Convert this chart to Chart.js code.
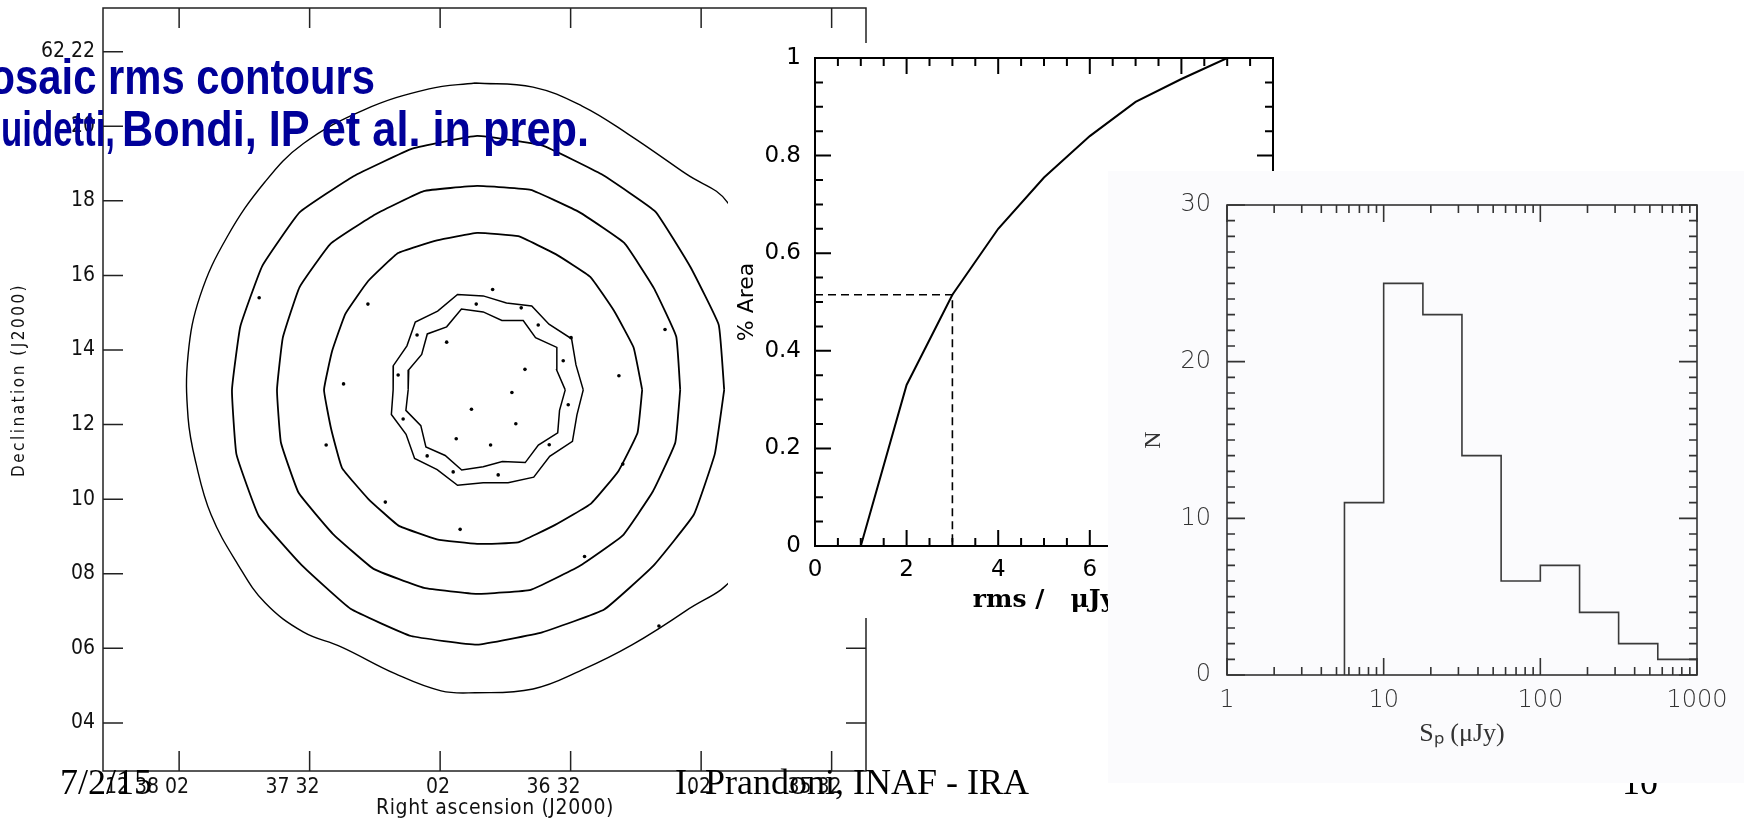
<!DOCTYPE html>
<html>
<head>
<meta charset="utf-8">
<script src="https://cdn.jsdelivr.net/npm/chart.js@4.4.1/dist/chart.umd.min.js"></script>
<style>
  html, body { margin: 0; padding: 0; background: #fff; overflow: hidden; }
  canvas { position: absolute; }
  #mapChart { left: 0; top: 0; }
  #areaChart { left: 728px; top: 43px; background: #fff; }
  #histChart { left: 1108px; top: 171px; background: #fbfbfd; }
</style>
</head>
<body>
<canvas id="mapChart" width="1744" height="821"></canvas>
<canvas id="areaChart" width="562" height="575"></canvas>
<canvas id="histChart" width="636" height="612"></canvas>
<script>
// --- contour map: RA in seconds after 12h35m, Dec in arcmin after 62d ---
const raTicks = [32, 62, 92, 122, 152, 182]
const raLabels = ["35 32", "02", "36 32", "02", "37 32", "12 38 02"]
const decTicks = [4, 6, 8, 10, 12, 14, 16, 18, 20, 22]
const decLabels = ["04", "06", "08", "10", "12", "14", "16", "18", "20", "62 22"]

// rms contours, [RA s, Dec arcmin]
const outerRing = [[113.96,21.16],[100.63,21.05],[89.36,20.54],[78.79,19.79],[65.45,18.72],[55.8,17.94],[50.3,16.15],[47.5,14.0],[46.8,12.13],[48.4,9.98],[54.2,7.97],[65.45,7.01],[77.9,6.09],[89.36,5.42],[100.63,4.91],[113.96,4.81],[121.78,4.86],[132.35,5.32],[144.77,6.04],[153.5,6.44],[162.24,7.22],[168.45,8.24],[174.65,9.58],[178.1,10.95],[179.94,12.18],[179.94,13.87],[177.18,15.45],[170.98,17.03],[162.24,18.51],[153.5,19.53],[139.48,20.44],[124.54,21.0]]
const ring2 = [[56.7,12.93],[57.95,14.67],[64.5,16.23],[72.52,17.71],[84.87,18.71],[98.43,19.48],[113.5,19.74],[128.39,19.40],[141.91,18.66],[154.31,17.69],[162.9,16.25],[167.93,14.63],[169.85,12.93],[168.82,11.20],[163.69,9.55],[153.83,8.23],[142.6,7.06],[128.69,6.33],[113.5,6.10],[98.55,6.43],[84.29,7.04],[73.01,8.21],[63.7,9.58],[58.84,11.22]]
const ring3 = [[66.81,12.93],[67.73,14.36],[72.87,15.66],[79.68,16.87],[89.92,17.69],[101.17,18.29],[113.5,18.40],[125.77,18.26],[136.85,17.64],[147.16,16.85],[154.33,15.68],[158.16,14.33],[159.5,12.93],[158.6,11.52],[154.53,10.17],[146.67,9.07],[137.31,8.13],[125.71,7.62],[113.5,7.46],[101.17,7.57],[90.04,8.20],[80.0,9.03],[73.07,10.21],[67.95,11.51]]
const ring4 = [[75.55,12.93],[77.51,14.06],[82.03,15.05],[87.48,15.96],[95.44,16.57],[104.03,17.05],[113.5,17.14],[122.73,16.94],[131.67,16.60],[138.54,15.85],[143.78,14.97],[146.83,13.97],[148.69,12.93],[147.05,11.88],[144.57,10.84],[138.54,10.01],[131.56,9.29],[122.73,8.92],[113.5,8.80],[104.09,8.84],[95.56,9.31],[87.32,9.88],[81.03,10.75],[76.62,11.78]]
const innerRingA = [[89.1,12.93],[90.77,13.60],[91.78,14.30],[96.98,14.69],[100.94,15.18],[106.74,15.26],[112.1,15.45],[118.0,15.49],[122.57,15.04],[127.71,14.75],[129.63,14.11],[132.76,13.58],[132.8,12.93],[133.21,12.27],[129.83,11.74],[127.87,11.09],[122.68,10.79],[118.0,10.37],[112.1,10.44],[106.38,10.44],[100.48,10.59],[96.81,11.15],[91.58,11.55],[90.55,12.26]]
const innerRingB = [[93.24,12.93],[95.21,13.46],[95.17,14.07],[100.07,14.33],[102.9,14.79],[107.81,14.79],[112.1,15.02],[117.1,15.10],[120.5,14.62],[124.95,14.43],[126.24,13.88],[129.21,13.47],[129.35,12.93],[129.87,12.38],[126.44,11.97],[125.27,11.40],[120.84,11.17],[117.04,10.78],[112.1,10.87],[107.69,11.01],[102.44,10.98],[99.42,11.45],[94.97,11.78],[94.55,12.38]]
const specks = [[109.93,15.62],[120.5,14.21],[102.5,13.48],[114.8,12.41],[105.5,12.86],[118.3,11.62],[110.4,11.45],[104.6,12.02],[91.9,14.33],[138.6,15.23],[144.2,13.09],[80.9,13.31],[70.3,14.55],[148.2,11.45],[134.6,9.92],[80.0,10.94],[117.4,9.19],[88.8,8.46],[163.6,15.4],[71.7,6.6],[93.7,13.71],[99.45,14.67],[113.7,15.23],[127.3,14.40],[131.65,13.33],[130.5,12.15],[124.98,11.16],[108.65,10.65],[96.92,11.46],[92.55,12.53],[103.36,15.13],[119.0,10.73]]

// --- cumulative area vs rms ---
const rmsValues = [1, 2, 3, 4, 5, 6, 7, 8, 9, 9.6]
const areaValues = [0, 0.33, 0.515, 0.65, 0.755, 0.84, 0.91, 0.957, 1, 1]
const rmsMark = 3
const areaMark = 0.515
const rmsTicks = [0, 2, 4, 6, 8, 10]
const areaTicks = [0, 0.2, 0.4, 0.6, 0.8, 1]

// --- peak flux histogram ---
const binEdges = [5.62, 10, 17.8, 31.6, 56.2, 100, 178, 316, 562, 1000]
const counts = [11, 25, 23, 14, 6, 7, 4, 2, 1]
const fluxTicks = [1, 10, 100, 1000]
const countTicks = [0, 10, 20, 30]

const titleLines = ["Mosaic rms contours", "Guidetti,", "Bondi, IP et al. in prep."]
const footer = { date: "7/2/15", author: "I. Prandoni, INAF - IRA", page: "10" }

const fontMap = "'DejaVu Sans Condensed', 'Liberation Sans Narrow', sans-serif"

function steps(from, to, step, skip) {
  const out = []
  for (let v = from; v <= to + 1e-9; v += step) {
    const r = Math.round(v * 1000) / 1000
    if (!skip || !skip.includes(r)) out.push(r)
  }
  return out
}

// fixed axis box, no extra room for overhanging labels
function fixSize(prop, size) {
  return (s) => {
    s[prop] = size
    s.paddingLeft = 0
    s.paddingRight = 0
    s.paddingTop = 0
    s.paddingBottom = 0
  }
}

// frame round the plot area and inward tick marks on every side
const boxTicks = {
  id: "boxTicks",
  afterDraw(chart, args, opts) {
    const { ctx, chartArea: a, scales } = chart
    ctx.save()
    ctx.strokeStyle = opts.color
    ctx.lineWidth = opts.width
    ctx.strokeRect(a.left, a.top, a.right - a.left, a.bottom - a.top)
    ctx.beginPath()
    opts.marks.forEach((m) => {
      const s = scales[m.axis]
      m.values.forEach((v) => {
        const p = s.getPixelForValue(v)
        if (m.axis === "x") {
          ctx.moveTo(p, a.bottom); ctx.lineTo(p, a.bottom - m.len)
          ctx.moveTo(p, a.top); ctx.lineTo(p, a.top + m.len)
        } else {
          ctx.moveTo(a.left, p); ctx.lineTo(a.left + m.len, p)
          ctx.moveTo(a.right, p); ctx.lineTo(a.right - m.len, p)
        }
      })
    })
    ctx.stroke()
    ctx.restore()
  },
}

// draws a line so that one part of it spans a given width
function fittedLine(ctx, text, anchor, anchorX, anchorW, baseY) {
  const i = text.indexOf(anchor)
  const sx = anchorW / ctx.measureText(anchor).width
  const pre = ctx.measureText(text.slice(0, i)).width
  ctx.save()
  ctx.translate(anchorX - pre * sx, baseY)
  ctx.scale(sx, 1.12)
  ctx.fillText(text, 0, 0)
  ctx.restore()
}

// slide texts and the map's axis titles
const slideText = {
  id: "slideText",
  afterDraw(chart) {
    const ctx = chart.ctx
    ctx.save()
    ctx.fillStyle = "#111"
    ctx.textAlign = "center"
    ctx.textBaseline = "middle"
    ctx.font = "21px " + fontMap
    ctx.letterSpacing = "0.6px"
    ctx.fillText("Right ascension (J2000)", 495, 809)
    ctx.save()
    ctx.translate(20, 380)
    ctx.rotate(-Math.PI / 2)
    ctx.font = "17px " + fontMap
    ctx.letterSpacing = "2.5px"
    ctx.fillText("Declination (J2000)", 0, 0)
    ctx.restore()
    ctx.letterSpacing = "0px"

    ctx.fillStyle = "#000099"
    ctx.textAlign = "left"
    ctx.textBaseline = "alphabetic"
    ctx.font = "bold 44px 'Liberation Sans', 'Noto Sans', sans-serif"
    fittedLine(ctx, titleLines[0], "rms contours", 108, 267, 94)
    fittedLine(ctx, titleLines[1], "uidetti,", 1, 114, 146)
    fittedLine(ctx, titleLines[2], "Bondi, IP et al. in prep.", 122, 467, 146)

    ctx.fillStyle = "#000"
    ctx.font = "36px 'Liberation Serif', 'Times New Roman', serif"
    ctx.fillText(footer.date, 60, 794)
    ctx.fillText(footer.author, 675, 794)
    ctx.fillText(footer.page, 1622, 794)
    ctx.restore()
  },
}

const pts = (list) => list.map(([x, y]) => ({ x, y }))
const loop = (list) => pts(list.concat([list[0]]))

function ringSet(list, width, tension) {
  return { data: loop(list), showLine: true, borderColor: "#000", borderWidth: width, tension, pointRadius: 0 }
}

const base = {
  responsive: false,
  animation: false,
  devicePixelRatio: 1,
  events: [],
}
const noGrid = { display: false, drawTicks: false }

// Mapa de contornos
new Chart(document.getElementById("mapChart"), {
  type: "scatter",
  data: {
    datasets: [
      ringSet(outerRing, 1.4, 0.4),
      ringSet(ring2, 1.8, 0.1),
      ringSet(ring3, 1.8, 0.1),
      ringSet(ring4, 1.8, 0.1),
      ringSet(innerRingA, 1.5, 0),
      ringSet(innerRingB, 1.5, 0),
      { data: pts(specks), pointRadius: 1.8, backgroundColor: "#000", borderWidth: 0 },
    ],
  },
  options: {
    ...base,
    layout: { padding: { top: 8, right: 878, left: 0, bottom: 0 } },
    plugins: {
      legend: { display: false },
      tooltip: { enabled: false },
      boxTicks: {
        color: "#222", width: 1.5,
        marks: [{ axis: "x", values: raTicks, len: 20 }, { axis: "y", values: decTicks, len: 20 }],
      },
    },
    scales: {
      x: {
        type: "linear", reverse: true, min: 24.1, max: 199.5,
        afterFit: fixSize("height", 50),
        afterBuildTicks: (s) => { s.ticks = raTicks.map((v) => ({ value: v })) },
        grid: noGrid, border: { display: false },
        ticks: {
          align: "end", labelOffset: 10, padding: 4, maxRotation: 0, minRotation: 0, autoSkip: false,
          color: "#111", font: { family: fontMap, size: 21 },
          callback: (v, i) => raLabels[i],
        },
      },
      y: {
        type: "linear", min: 2.71, max: 23.17,
        afterFit: fixSize("width", 103),
        afterBuildTicks: (s) => { s.ticks = decTicks.map((v) => ({ value: v })) },
        grid: noGrid, border: { display: false },
        ticks: {
          padding: 8, autoSkip: false, color: "#111", font: { family: fontMap, size: 21 },
          callback: (v, i) => decLabels[i],
        },
      },
    },
  },
  plugins: [boxTicks, slideText],
})

// Curva da área acumulada
new Chart(document.getElementById("areaChart"), {
  type: "scatter",
  data: {
    datasets: [
      { data: rmsValues.map((x, i) => ({ x, y: areaValues[i] })), showLine: true, borderColor: "#000", borderWidth: 2, pointRadius: 0 },
      {
        data: [{ x: 0, y: areaMark }, { x: rmsMark, y: areaMark }, { x: rmsMark, y: 0 }],
        showLine: true, borderColor: "#000", borderWidth: 1.6, borderDash: [8, 5], pointRadius: 0,
      },
    ],
  },
  options: {
    ...base,
    layout: { padding: { top: 15, right: 17, left: 0, bottom: 0 } },
    plugins: {
      legend: { display: false },
      tooltip: { enabled: false },
      boxTicks: {
        color: "#000", width: 2,
        marks: [
          { axis: "x", values: rmsTicks, len: 16 },
          { axis: "x", values: steps(0.5, 9.5, 0.5, rmsTicks), len: 8 },
          { axis: "y", values: areaTicks, len: 16 },
          { axis: "y", values: steps(0.05, 0.95, 0.05, areaTicks), len: 8 },
        ],
      },
    },
    scales: {
      x: {
        type: "linear", min: 0, max: 10,
        afterFit: fixSize("height", 72),
        afterBuildTicks: (s) => { s.ticks = rmsTicks.map((v) => ({ value: v })) },
        grid: noGrid, border: { display: false },
        ticks: { padding: 10, maxRotation: 0, autoSkip: false, color: "#000", font: { family: "'DejaVu Sans', sans-serif", size: 23 } },
        title: {
          display: true, text: "rms /   \u03bcJy", color: "#000",
          font: { family: "'DejaVu Serif', serif", size: 25, weight: "bold" }, padding: { top: 0, bottom: 3 },
        },
      },
      y: {
        type: "linear", min: 0, max: 1,
        afterFit: fixSize("width", 87),
        afterBuildTicks: (s) => { s.ticks = areaTicks.map((v) => ({ value: v })) },
        grid: noGrid, border: { display: false },
        ticks: { padding: 14, autoSkip: false, color: "#000", font: { family: "'DejaVu Sans', sans-serif", size: 23 }, callback: (v) => String(v) },
        title: {
          display: true, text: "% Area", color: "#000",
          font: { family: "'DejaVu Sans', sans-serif", size: 22 }, padding: { top: 6, bottom: 0 },
        },
      },
    },
  },
  plugins: [boxTicks],
})

// Histograma do fluxo de pico
const histPoints = [{ x: binEdges[0], y: 0 }].concat(
  binEdges.map((x, i) => ({ x, y: i < counts.length ? counts[i] : counts[counts.length - 1] }))
)

new Chart(document.getElementById("histChart"), {
  type: "scatter",
  data: {
    datasets: [
      { data: histPoints, showLine: true, stepped: "before", borderColor: "#3a3a3a", borderWidth: 1.6, pointRadius: 0 },
    ],
  },
  options: {
    ...base,
    layout: { padding: { top: 34, right: 47, left: 0, bottom: 0 } },
    plugins: {
      legend: { display: false },
      tooltip: { enabled: false },
      boxTicks: {
        color: "#333", width: 1.6,
        marks: [
          { axis: "x", values: fluxTicks, len: 17 },
          { axis: "x", values: [2, 3, 4, 5, 6, 7, 8, 9, 20, 30, 40, 50, 60, 70, 80, 90, 200, 300, 400, 500, 600, 700, 800, 900], len: 8 },
          { axis: "y", values: countTicks, len: 18 },
          { axis: "y", values: steps(1, 29, 1, countTicks), len: 8 },
        ],
      },
    },
    scales: {
      x: {
        type: "logarithmic", min: 1, max: 1000,
        afterFit: fixSize("height", 108),
        afterBuildTicks: (s) => { s.ticks = fluxTicks.map((v) => ({ value: v })) },
        grid: noGrid, border: { display: false },
        ticks: { padding: 11, maxRotation: 0, autoSkip: false, color: "#333", font: { family: "'DejaVu Sans', sans-serif", size: 24, weight: "300" }, callback: (v) => String(v) },
        title: {
          display: true, text: "S\u209a (\u03bcJy)", color: "#333",
          font: { family: "'Liberation Serif', serif", size: 26 }, padding: { top: 0, bottom: 33 },
        },
      },
      y: {
        type: "linear", min: 0, max: 30,
        afterFit: fixSize("width", 119),
        afterBuildTicks: (s) => { s.ticks = countTicks.map((v) => ({ value: v })) },
        grid: noGrid, border: { display: false },
        ticks: { padding: 16, autoSkip: false, color: "#333", font: { family: "'DejaVu Sans', sans-serif", size: 24, weight: "300" }, callback: (v) => String(v) },
        title: {
          display: true, text: "N", color: "#333",
          font: { family: "'Liberation Serif', serif", size: 24 }, padding: { top: 31, bottom: 0 },
        },
      },
    },
  },
  plugins: [boxTicks],
})
</script>
</body>
</html>
